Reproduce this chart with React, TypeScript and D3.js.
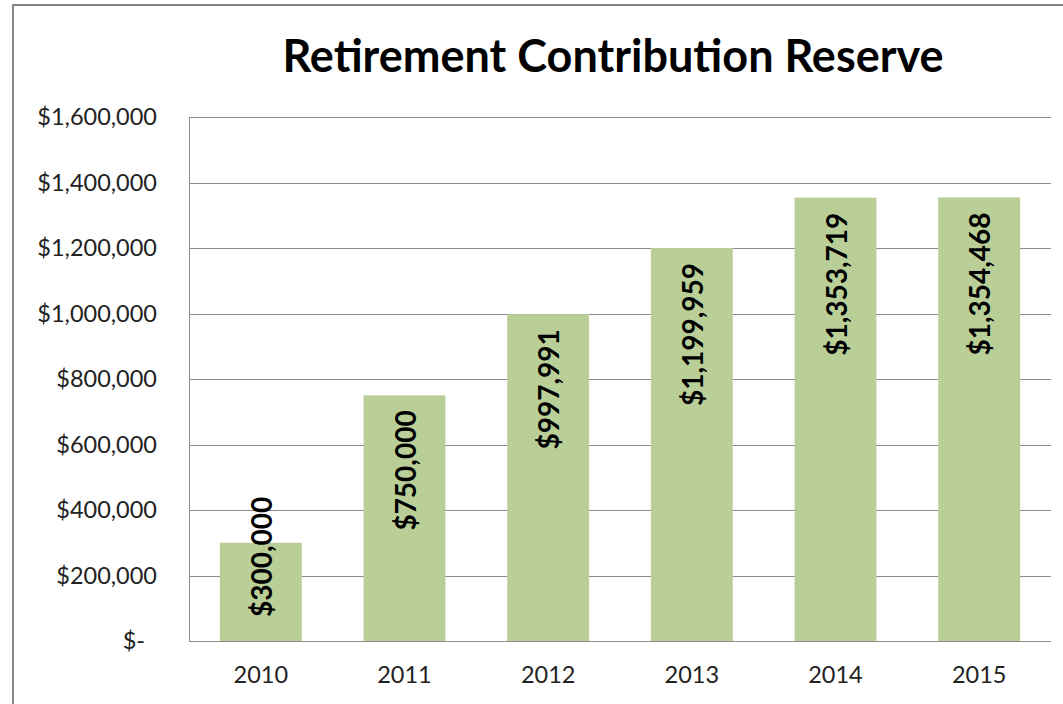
import React, { useRef, useEffect } from "react";
import * as d3 from "d3";

const years = ["2010", "2011", "2012", "2013", "2014", "2015"];
const reserve = [300000, 750000, 997991, 1199959, 1353719, 1354468];
const yTicks = [0, 200000, 400000, 600000, 800000, 1000000, 1200000, 1400000, 1600000];
const title = "Retirement Contribution Reserve";

const App = () => {
  const chart = useRef<SVGSVGElement>(null);

  useEffect(() => {
    const width = 1063;
    const height = 704;
    const margin = { top: 117, right: 12, bottom: 63, left: 189 };
    const base = height - margin.bottom;

    const svg = d3.select(chart.current);
    svg.selectAll("*").remove();

    svg.append("rect")
      .attr("width", width)
      .attr("height", height)
      .attr("fill", "#fff");

    // outer chart border (runs off the right and bottom edge)
    svg.append("rect")
      .attr("x", 13)
      .attr("y", 5)
      .attr("width", width + 20)
      .attr("height", height + 20)
      .attr("fill", "none")
      .attr("stroke", "#858585")
      .attr("stroke-width", 2);

    const x = d3.scaleBand()
      .domain(years)
      .range([margin.left, width - margin.right])
      .paddingInner(0.43)
      .paddingOuter(0.215);

    const y = d3.scaleLinear()
      .domain([0, 1600000])
      .range([base, margin.top]);

    const money = d3.format("$,");

    // gridlines
    svg.append("g")
      .selectAll("line")
      .data(yTicks)
      .join("line")
      .attr("x1", margin.left)
      .attr("x2", width - margin.right)
      .attr("y1", d => Math.round(y(d)) + 0.5)
      .attr("y2", d => Math.round(y(d)) + 0.5)
      .attr("stroke", "#8c8c8c")
      .attr("stroke-width", 1);

    svg.append("line")
      .attr("x1", margin.left + 0.5)
      .attr("x2", margin.left + 0.5)
      .attr("y1", margin.top)
      .attr("y2", base)
      .attr("stroke", "#8c8c8c");

    // y tick labels
    svg.append("g")
      .selectAll("text")
      .data(yTicks)
      .join("text")
      .attr("x", d => (d === 0 ? 145 : 157))
      .attr("y", d => y(d))
      .attr("dy", "0.36em")
      .attr("text-anchor", "end")
      .attr("font-family", "Lato, sans-serif")
      .attr("font-size", 23.5)
      .attr("fill", "#222")
      .text(d => (d === 0 ? "$-" : money(d)));

    // x tick labels
    svg.append("g")
      .selectAll("text")
      .data(years)
      .join("text")
      .attr("x", d => x(d)! + x.bandwidth() / 2)
      .attr("y", 683)
      .attr("text-anchor", "middle")
      .attr("font-family", "Lato, sans-serif")
      .attr("font-size", 23.5)
      .attr("fill", "#222")
      .text(d => d);

    // bars
    svg.append("g")
      .attr("fill", "#b9cf97")
      .selectAll("rect")
      .data(reserve)
      .join("rect")
      .attr("x", (d, i) => x(years[i])!)
      .attr("y", d => y(d))
      .attr("width", x.bandwidth())
      .attr("height", d => base - y(d));

    // value labels, rotated, inside end
    const labels = svg.append("g")
      .selectAll("text")
      .data(reserve)
      .join("text")
      .attr("text-anchor", "end")
      .attr("dominant-baseline", "central")
      .attr("font-family", "Lato, sans-serif")
      .attr("font-weight", "bold")
      .attr("font-size", 28)
      .attr("fill", "#000")
      .text(d => money(d));

    labels.each(function (d, i) {
      const el = this as SVGTextElement;
      const len = el.getComputedTextLength();
      const top = Math.min(y(d) + 15, base - 24 - len);
      const cx = x(years[i])! + x.bandwidth() / 2;
      d3.select(el).attr("transform", `translate(${cx},${top}) rotate(-90)`);
    });

    // title
    svg.append("text")
      .attr("x", 613)
      .attr("y", 72)
      .attr("text-anchor", "middle")
      .attr("font-family", "Lato, sans-serif")
      .attr("font-weight", "bold")
      .attr("font-size", 45)
      .attr("fill", "#000")
      .text(title);
  }, []);

  return (
    <svg
      ref={chart}
      width={1063}
      height={704}
      style={{ position: "absolute", left: 0, top: 0 }}
    />
  );
};

export default App;
